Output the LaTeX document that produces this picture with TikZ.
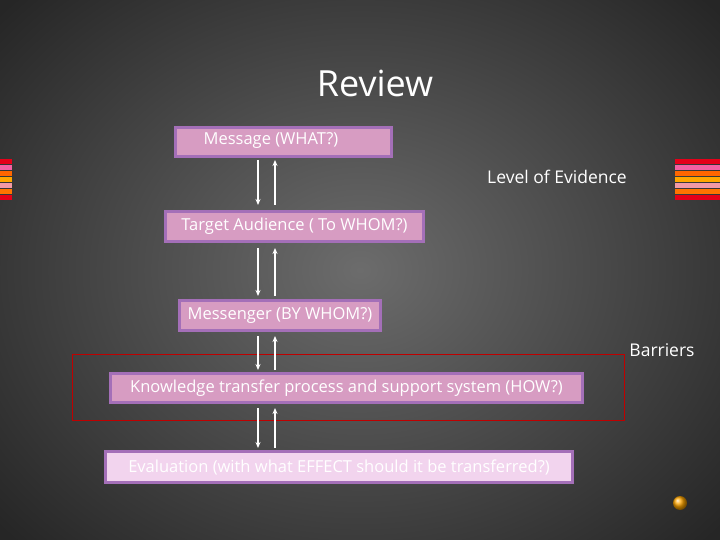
\documentclass[tikz,border=0pt]{standalone}
\usepackage{fontspec}
\usetikzlibrary{arrows.meta}
\setmainfont{Open Sans}
\begin{document}
\begin{tikzpicture}[x=1pt,y=-1pt,
  box/.style={draw=boxedge,line width=3pt,fill=boxfill,text=white,inner sep=0pt,anchor=north west},
  btxt/.style={text=white,font=\fontsize{16.5}{18}\selectfont},
  arr/.style={draw=white,line width=1.3pt,-{Stealth[length=6pt,width=5pt]}},
  lbl/.style={text=white,font=\fontsize{17.5}{20}\selectfont}]
\definecolor{boxfill}{HTML}{D79CC2}
\definecolor{boxedge}{HTML}{A46FB8}
\definecolor{lightfill}{HTML}{F2D4EE}
\definecolor{bgin}{HTML}{6C6C6C}
\definecolor{bgout}{HTML}{262626}
\useasboundingbox (0,0) rectangle (720,540);
\fill[inner color=bgin,outer color=bgout] (-120,-120) rectangle (840,660);
% stripes
\foreach \c/\y in {red!60!purple/159,magenta!50!pink/165,orange!80!red/171,orange!70!yellow/177,pink!80!purple/183,orange!90!red/189,red!60!purple/195}{
  \fill[\c] (0,\y) rectangle (12,\y+5);
  \fill[\c] (675,\y) rectangle (720,\y+5);}
\node[text=white,font=\fontsize{36}{40}\selectfont] (title) at (375,83) {Review};
\node[box,minimum width=216pt,minimum height=29pt] (m) at (174,126) {};
\node[btxt] (mt) at (271,141) {Message (WHAT?)};
\node[box,minimum width=258pt,minimum height=30pt] (t) at (164,210) {};
\node[btxt] (tt) at (t.center) {Target Audience ( To WHOM?)};
\node[box,minimum width=201pt,minimum height=30pt] (g) at (178,299) {};
\node[btxt] (gt) at (g.center) {Messenger (BY WHOM?)};
\node[box,minimum width=472pt,minimum height=29pt] (k) at (109,372) {};
\node[btxt] (kt) at (k.center) {Knowledge transfer process and support system (HOW?)};
\node[box,fill=lightfill,minimum width=467pt,minimum height=31pt] (e) at (104,450) {};
\node[btxt] (et) at (e.center) {Evaluation (with what EFFECT should it be transferred?)};
\node[draw=red!75!black,line width=1pt,minimum width=552pt,minimum height=66pt,anchor=north west,inner sep=0pt] (r) at (72,354) {};
\node[lbl] (lev) at (557,177) {Level of Evidence};
\node[lbl] (bar) at (662,350) {Barriers};
\foreach \a/\b in {160/205,248/296,336/370,408/448}{
  \coordinate (d1) at (258,\a); \coordinate (d2) at (258,\b);
  \coordinate (u1) at (275,\b); \coordinate (u2) at (275,\a);
  \draw[arr] (d1) -- (d2);
  \draw[arr] (u1) -- (u2);}
\shade[ball color=orange!70!yellow] (680,503) circle (7);
\end{tikzpicture}
\end{document}
